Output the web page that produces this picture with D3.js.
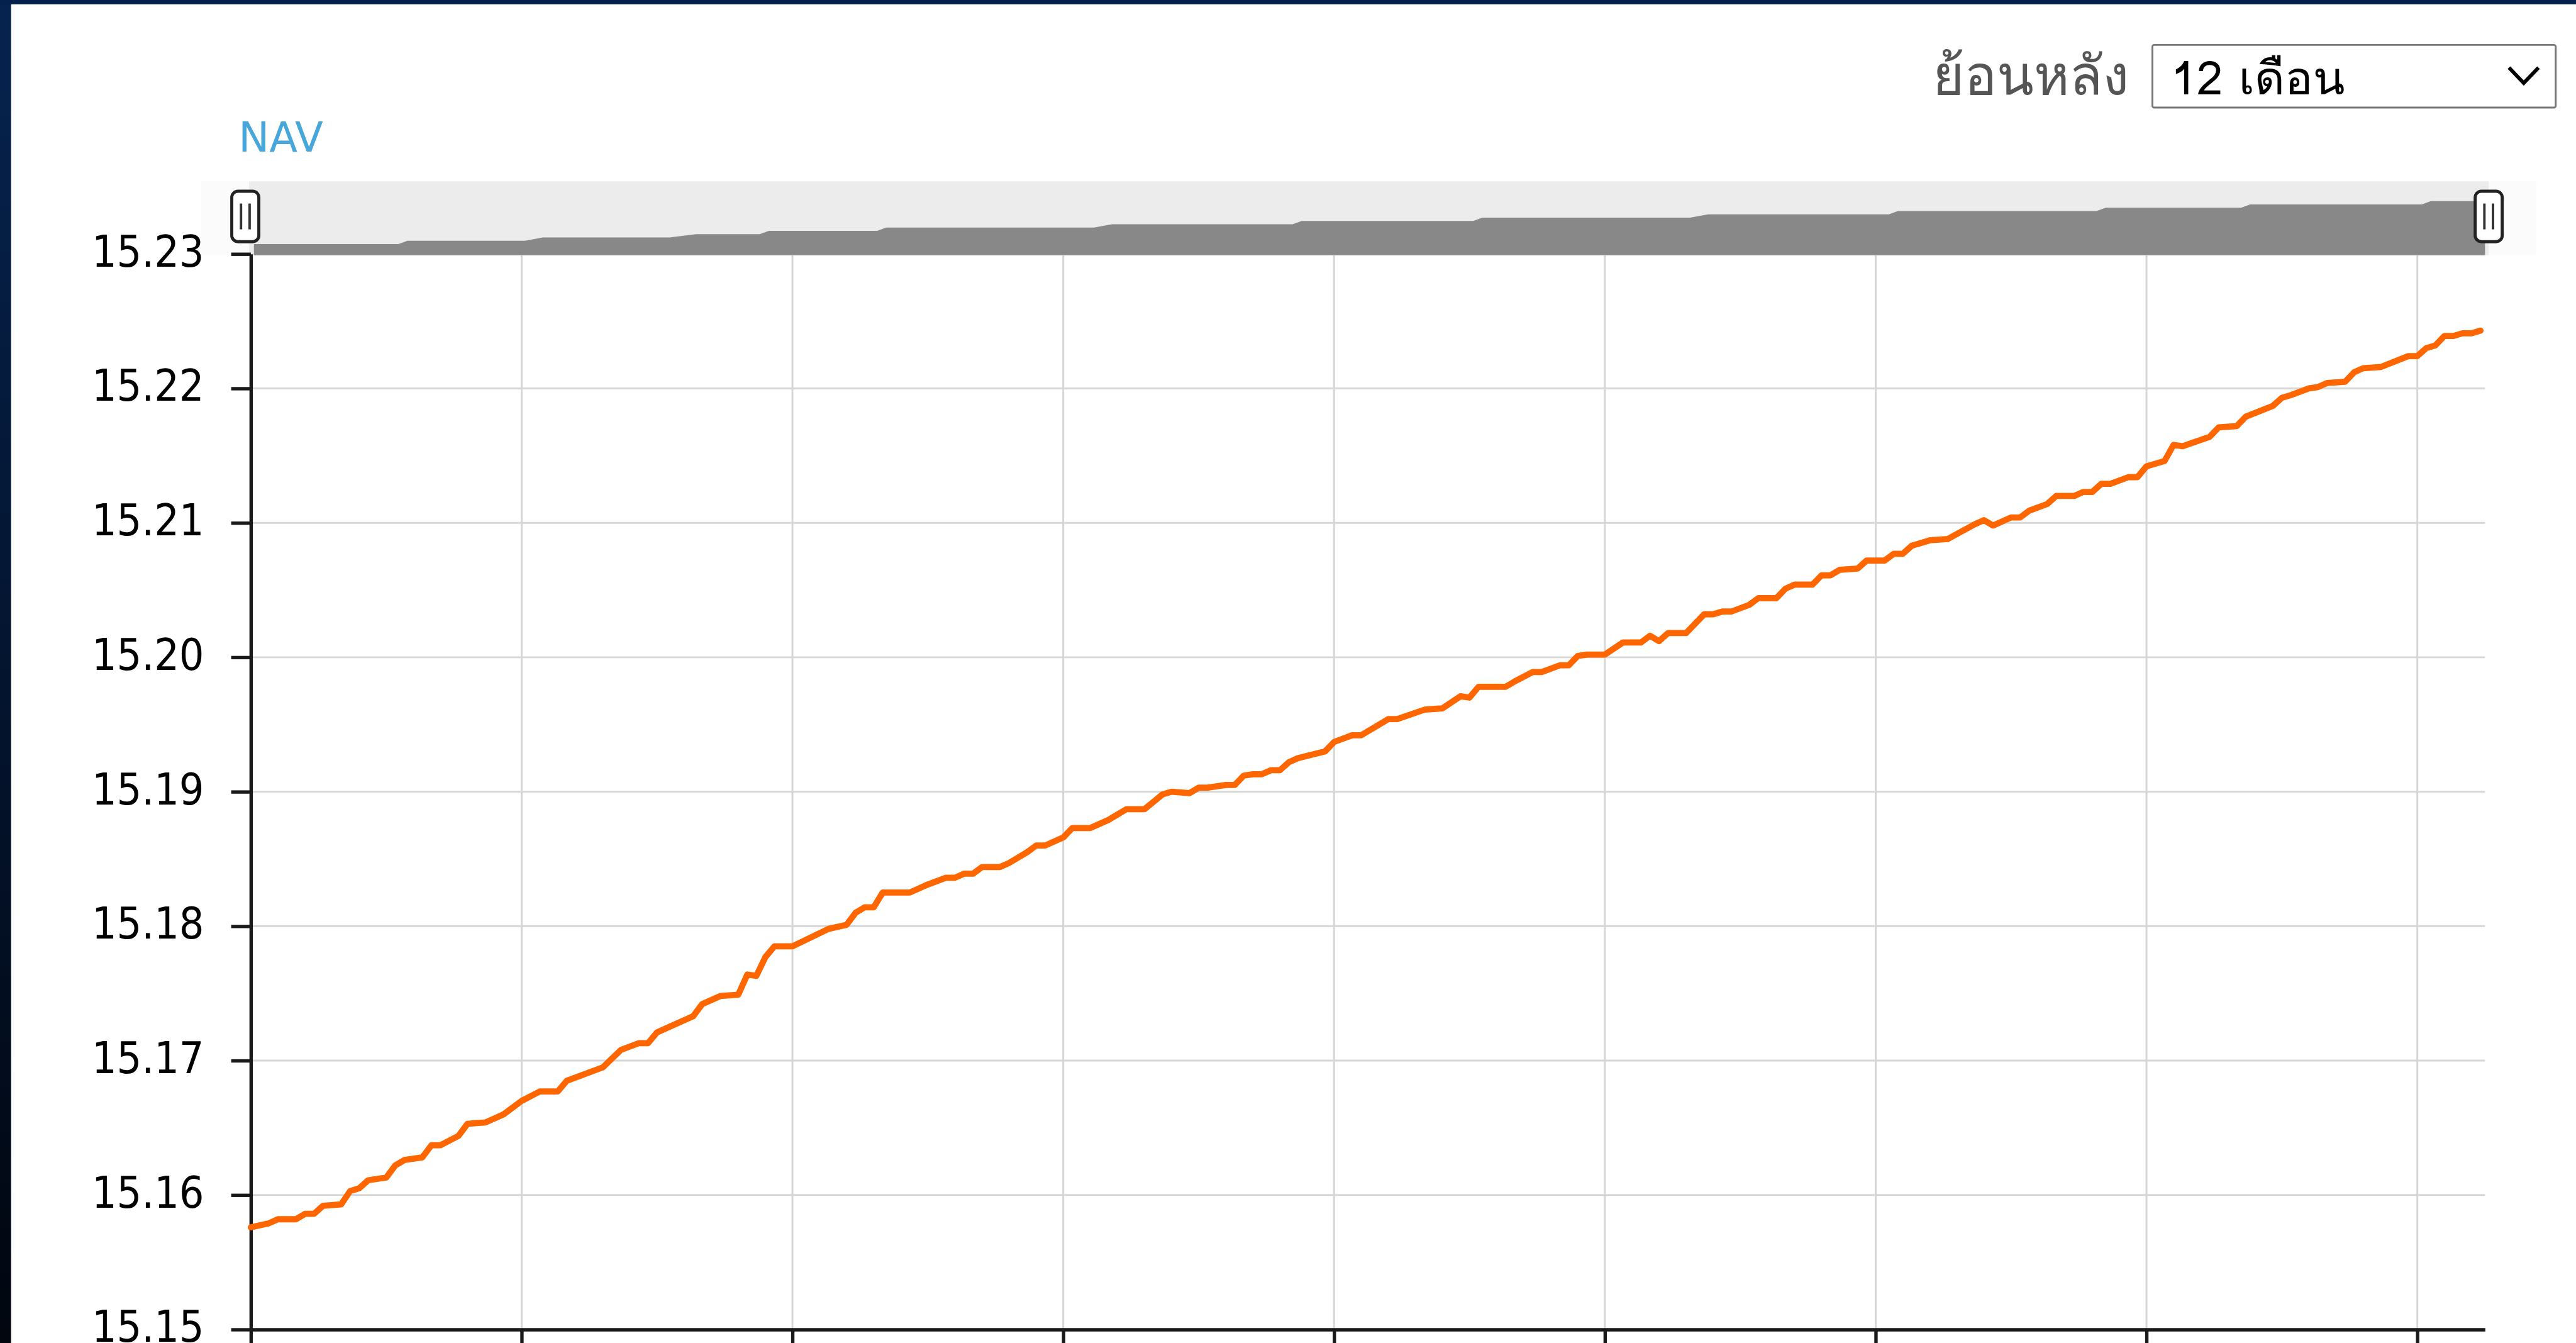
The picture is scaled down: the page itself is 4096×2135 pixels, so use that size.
<!doctype html>
<meta charset="utf-8">
<title>NAV 12 เดือน</title>
<style>
  html, body { margin: 0; padding: 0; background: #fff; overflow: hidden; }
  svg { display: block; }
  .num { font-family: "DejaVu Sans", Verdana, sans-serif; font-stretch: condensed; }
  .thai { font-family: Tahoma, Loma, Garuda, "Tlwg Typo", Kinnari, Norasi, "Noto Sans Thai Looped", "Noto Sans Thai", "Noto Sans", "DejaVu Sans", sans-serif; }
</style>

<svg id="chart"></svg>

<script src="https://cdn.jsdelivr.net/npm/d3@7/dist/d3.min.js"></script>
<script>

// trading day (0 = first day of the 12 month window) and NAV
var navDay = [
  0, 2, 3, 5, 6, 7, 8, 10, 11, 12, 13, 15, 16, 17, 19, 20, 21, 23, 24, 26,
  28, 30, 32, 34, 35, 39, 41, 43, 44, 45, 46, 49, 50, 52, 54, 55, 56, 57, 58, 60,
  64, 66, 67, 68, 69, 70, 73, 75, 77, 78, 79, 80, 81, 83, 84, 86, 87, 88, 90, 91,
  93, 95, 97, 99, 101, 102, 104, 105, 106, 108, 109, 110, 111, 112, 113, 114, 115, 116, 119, 120,
  122, 123, 126, 127, 130, 132, 134, 135, 136, 139, 140, 142, 143, 145, 146, 147, 148, 150, 152, 154,
  155, 156, 157, 159, 161, 162, 163, 164, 166, 167, 169, 170, 171, 173, 174, 175, 176, 178, 179, 181,
  182, 183, 184, 186, 188, 191, 192, 193, 195, 196, 197, 199, 200, 202, 203, 204, 205, 206, 208, 209,
  210, 211, 212, 213, 214, 217, 218, 220, 221, 224, 225, 226, 228, 229, 230, 232, 233, 234, 236, 239,
  240, 241, 242, 243, 244, 245, 246, 247
];

var navValue = [
  15.1576, 15.1579, 15.1582, 15.1582, 15.1586, 15.1586, 15.1592, 15.1593, 15.1603, 15.1605,
  15.1611, 15.1613, 15.1622, 15.1626, 15.1628, 15.1637, 15.1637, 15.1644, 15.1653, 15.1654,
  15.1660, 15.1670, 15.1677, 15.1677, 15.1685, 15.1695, 15.1708, 15.1713, 15.1713, 15.1721,
  15.1724, 15.1733, 15.1742, 15.1748, 15.1749, 15.1764, 15.1763, 15.1777, 15.1785, 15.1785,
  15.1798, 15.1801, 15.1810, 15.1814, 15.1814, 15.1825, 15.1825, 15.1831, 15.1836, 15.1836,
  15.1839, 15.1839, 15.1844, 15.1844, 15.1847, 15.1855, 15.1860, 15.1860, 15.1866, 15.1873,
  15.1873, 15.1879, 15.1887, 15.1887, 15.1898, 15.1900, 15.1899, 15.1903, 15.1903, 15.1905,
  15.1905, 15.1912, 15.1913, 15.1913, 15.1916, 15.1916, 15.1922, 15.1925, 15.1930, 15.1937,
  15.1942, 15.1942, 15.1954, 15.1954, 15.1961, 15.1962, 15.1971, 15.1970, 15.1978, 15.1978,
  15.1982, 15.1989, 15.1989, 15.1994, 15.1994, 15.2001, 15.2002, 15.2002, 15.2011, 15.2011,
  15.2016, 15.2012, 15.2018, 15.2018, 15.2032, 15.2032, 15.2034, 15.2034, 15.2039, 15.2044,
  15.2044, 15.2051, 15.2054, 15.2054, 15.2061, 15.2061, 15.2065, 15.2066, 15.2072, 15.2072,
  15.2077, 15.2077, 15.2083, 15.2087, 15.2088, 15.2099, 15.2102, 15.2098, 15.2104, 15.2104,
  15.2109, 15.2114, 15.2120, 15.2120, 15.2123, 15.2123, 15.2129, 15.2129, 15.2134, 15.2134,
  15.2142, 15.2144, 15.2146, 15.2158, 15.2157, 15.2164, 15.2171, 15.2172, 15.2179, 15.2187,
  15.2193, 15.2195, 15.2200, 15.2201, 15.2204, 15.2205, 15.2212, 15.2215, 15.2216, 15.2224,
  15.2224, 15.2230, 15.2232, 15.2239, 15.2239, 15.2241, 15.2241, 15.2243
];

var yTicks = [15.15, 15.16, 15.17, 15.18, 15.19, 15.20, 15.21, 15.22, 15.23];
var xTickDays = [0, 30, 60, 90, 120, 150, 180, 210, 240];

var seriesLabel = "NAV";
var periodLabel = "ย้อนหลัง";
var periodValue = "12 เดือน";

var data = navDay.map(function(d, i) { return {day: d, nav: navValue[i]}; });

// (svg) drawn in the reference's own units, scaled down by the viewBox
var W = 4190, H = 2184;
var svg = d3.select("#chart")
  .attr("width", 4096)
  .attr("height", 2135)
  .attr("viewBox", "0 0 " + W + " " + H);

var defs = svg.append("defs");
var grad = defs.append("linearGradient")
  .attr("id", "frame")
  .attr("x1", 0).attr("y1", 0).attr("x2", 0).attr("y2", 1);
grad.append("stop").attr("offset", "0%").attr("stop-color", "#06234f");
grad.append("stop").attr("offset", "100%").attr("stop-color", "#01060f");

svg.append("rect").attr("width", W).attr("height", H).attr("fill", "#fff");
svg.append("rect").attr("x", 0).attr("y", 0).attr("width", 18).attr("height", H).attr("fill", "url(#frame)");
svg.append("rect").attr("x", 0).attr("y", 0).attr("width", W).attr("height", 7).attr("fill", "#04214d");

// (scales)
var x = d3.scaleLinear().domain([0, 247.5]).range([408, 4042]);
var y = d3.scaleLinear().domain([15.15, 15.23]).range([2162, 413]);

var xNav = d3.scaleLinear().domain([0, 247]).range([413, 4042]);
var yNav = d3.scaleLinear().domain([15.16, 15.225]).range([397, 327]);

// (grid)
var grid = svg.append("g").attr("stroke", "#d6d6d6").attr("stroke-width", 3);
grid.selectAll("line.h")
  .data(yTicks)
  .enter()
  .append("line")
  .attr("class", "h")
  .attr("x1", x.range()[0]).attr("x2", x.range()[1])
  .attr("y1", function(d) { return y(d); })
  .attr("y2", function(d) { return y(d); });
grid.selectAll("line.v")
  .data(xTickDays)
  .enter()
  .append("line")
  .attr("class", "v")
  .attr("x1", function(d) { return x(d); })
  .attr("x2", function(d) { return x(d); })
  .attr("y1", 415).attr("y2", y(15.15));

// (navigator)
var nav = svg.append("g");
nav.append("rect")
  .attr("x", 327).attr("y", 295).attr("width", 4125 - 327).attr("height", 120)
  .attr("fill", "#fbfbfb");
nav.append("rect")
  .attr("x", 405).attr("y", 295).attr("width", 4048 - 405).attr("height", 120)
  .attr("fill", "#ececec");
nav.append("path")
  .datum(data)
  .attr("fill", "#888888")
  .attr("d", d3.area()
    .x(function(d) { return xNav(d.day); })
    .y0(415)
    .y1(function(d) { return yNav(Math.round(d.nav * 200) / 200); }));

var handles = nav.selectAll("g.handle")
  .data([xNav.range()[0] - 14, xNav.range()[1] + 6])
  .enter()
  .append("g")
  .attr("class", "handle")
  .attr("transform", function(d) { return "translate(" + d + ",352)"; });
handles.append("rect")
  .attr("x", -22).attr("y", -41).attr("width", 44).attr("height", 82).attr("rx", 10)
  .attr("fill", "#fff").attr("stroke", "#222").attr("stroke-width", 5);
handles.selectAll("line")
  .data([-7, 7])
  .enter()
  .append("line")
  .attr("x1", function(d) { return d; }).attr("x2", function(d) { return d; })
  .attr("y1", -21).attr("y2", 21)
  .attr("stroke", "#333").attr("stroke-width", 4);

// (axes)
var yAxis = svg.append("g")
  .attr("class", "num")
  .attr("transform", "translate(" + x.range()[0] + ",0)")
  .call(d3.axisLeft(y).tickValues(yTicks).tickSize(32).tickSizeOuter(0).tickPadding(44)
    .tickFormat(d3.format(".2f")));
yAxis.selectAll("text").attr("font-size", 71).attr("fill", "#000").attr("dy", "0.28em");

var xAxis = svg.append("g")
  .attr("transform", "translate(0," + y.range()[0] + ")")
  .call(d3.axisBottom(x).tickValues(xTickDays).tickSize(34).tickSizeOuter(0).tickFormat(""));

svg.selectAll(".domain, .tick line").attr("stroke", "#1a1a1a").attr("stroke-width", 5.5);

// (line)
svg.append("path")
  .datum(data)
  .attr("fill", "none")
  .attr("stroke", "#ff6600")
  .attr("stroke-width", 10)
  .attr("stroke-linejoin", "round")
  .attr("stroke-linecap", "round")
  .attr("d", d3.line()
    .x(function(d) { return x(d.day); })
    .y(function(d) { return y(d.nav); }));

// (labels)
svg.append("text")
  .attr("class", "num")
  .attr("x", 388).attr("y", 247)
  .attr("font-size", 67)
  .style("font-stretch", "normal")
  .attr("fill", "#47a6da")
  .text(seriesLabel);

svg.append("text")
  .attr("class", "thai")
  .attr("x", 3463).attr("y", 153)
  .attr("text-anchor", "end")
  .attr("font-size", 88)
  .attr("fill", "#555")
  .text(periodLabel);

var select = svg.append("g");
select.append("rect")
  .attr("x", 3501).attr("y", 73).attr("width", 656).attr("height", 102).attr("rx", 3)
  .attr("fill", "#fff").attr("stroke", "#767676").attr("stroke-width", 3);
select.append("text")
  .attr("class", "thai")
  .attr("x", 3531).attr("y", 153)
  .attr("font-size", 76)
  .attr("fill", "#000")
  .text(periodValue);
select.append("path")
  .attr("d", "M4081,110 L4105,135 L4129,110")
  .attr("fill", "none").attr("stroke", "#000").attr("stroke-width", 6);

</script>
